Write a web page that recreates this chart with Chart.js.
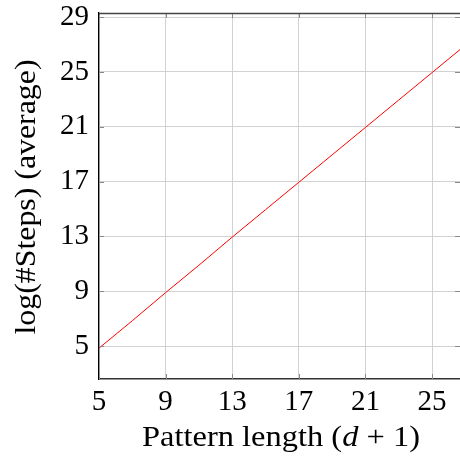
<!DOCTYPE html>
<html><head><meta charset="utf-8">
<script src="https://cdn.jsdelivr.net/npm/chart.js@4"></script>
<style>html,body{margin:0;padding:0;background:#fff}#wrap{width:460px;height:456px}</style>
</head><body><div id="wrap"><canvas id="c" width="460" height="456"></canvas></div>
<script>
const xTicks = [5, 9, 13, 17, 21, 25];
const yTicks = [5, 9, 13, 17, 21, 25, 29];
const patternLength = [5, 7, 9, 11, 13, 15, 17, 19, 21, 23, 25, 27];
const logSteps = [4.85, 6.85, 8.9, 10.9, 12.95, 14.95, 16.95, 18.95, 20.95, 22.95, 24.95, 26.95];
const xTitle = ["Pattern length (", "d", " + 1)"];
const yTitle = "log(#Steps) (average)";

const serif = "'Liberation Serif', serif";
const FS = 29;

const deco = {
  id: 'deco',
  afterDraw(chart) {
    const {ctx, chartArea: a, scales} = chart;
    ctx.save();
    ctx.strokeStyle = '#8a8a8a';
    ctx.lineWidth = 1;
    xTicks.forEach(v => {
      const px = Math.round(scales.x.getPixelForValue(v)) + 0.5;
      ctx.beginPath(); ctx.moveTo(px, a.bottom); ctx.lineTo(px, a.bottom - 5); ctx.stroke();
      ctx.beginPath(); ctx.moveTo(px, a.top); ctx.lineTo(px, a.top + 5); ctx.stroke();
    });
    yTicks.forEach(v => {
      const py = Math.round(scales.y.getPixelForValue(v)) + 0.5;
      ctx.beginPath(); ctx.moveTo(a.left, py); ctx.lineTo(a.left + 5, py); ctx.stroke();
      ctx.beginPath(); ctx.moveTo(a.right, py); ctx.lineTo(a.right - 5, py); ctx.stroke();
    });
    ctx.strokeStyle = '#444';
    ctx.lineWidth = 1.3;
    ctx.beginPath(); ctx.moveTo(a.left, a.top + 0.5); ctx.lineTo(a.right, a.top + 0.5); ctx.stroke();
    // x title with italic d
    ctx.fillStyle = '#000';
    ctx.textBaseline = 'alphabetic';
    ctx.textAlign = 'left';
    const fN = "30px " + serif, fI = "italic 30px " + serif;
    const parts = [[xTitle[0], fN], [xTitle[1], fI], [xTitle[2], fN]];
    let w = 0;
    parts.forEach(p => { ctx.font = p[1]; w += ctx.measureText(p[0]).width; });
    const stretch = 278 / w;
    ctx.save();
    ctx.translate(281 - 139, 446);
    ctx.scale(stretch, 1);
    let x = 0;
    parts.forEach(p => { ctx.font = p[1]; ctx.fillText(p[0], x, 0); x += ctx.measureText(p[0]).width; });
    ctx.restore();
    // y title
    ctx.save();
    ctx.font = fN;
    const wy = ctx.measureText(yTitle).width;
    ctx.translate(35, 197);
    ctx.rotate(-Math.PI / 2);
    ctx.scale(275 / wy, 1);
    ctx.textAlign = 'center';
    ctx.fillText(yTitle, 0, 0);
    ctx.restore();
    ctx.restore();
  }
};

new Chart(document.getElementById('c'), {
  type: 'scatter',
  data: {
    datasets: [{
      data: patternLength.map((v, i) => ({x: v, y: logSteps[i]})),
      showLine: true,
      borderColor: '#ff0000',
      borderWidth: 1,
      pointRadius: 0,
      fill: false
    }]
  },
  options: {
    responsive: false,
    animation: false,
    layout: {padding: {top: 13, right: 0, left: 0, bottom: 0}},
    plugins: {legend: {display: false}, tooltip: {enabled: false}},
    scales: {
      x: {
        type: 'linear', min: 5, max: 26.68,
        afterFit(s) { s.height = 77; s.paddingLeft = 0; s.paddingRight = 0; },
        afterBuildTicks(s) { s.ticks = xTicks.map(v => ({value: v})); },
        grid: {color: '#d2d2d2', drawTicks: false, lineWidth: 1},
        border: {color: '#333', width: 1.5},
        ticks: {padding: 6, color: '#000', font: {family: serif, size: FS, lineHeight: 1.2}, maxRotation: 0}
      },
      y: {
        type: 'linear', min: 2.6, max: 29.3,
        afterFit(s) { s.width = 99; s.paddingTop = 0; s.paddingBottom = 0; },
        afterBuildTicks(s) { s.ticks = yTicks.map(v => ({value: v})); },
        grid: {color: '#d2d2d2', drawTicks: false, lineWidth: 1},
        border: {color: '#000', width: 1.3},
        ticks: {padding: 10, color: '#000', font: {family: serif, size: FS, lineHeight: 1.2}}
      }
    }
  },
  plugins: [deco]
});
</script></body></html>
